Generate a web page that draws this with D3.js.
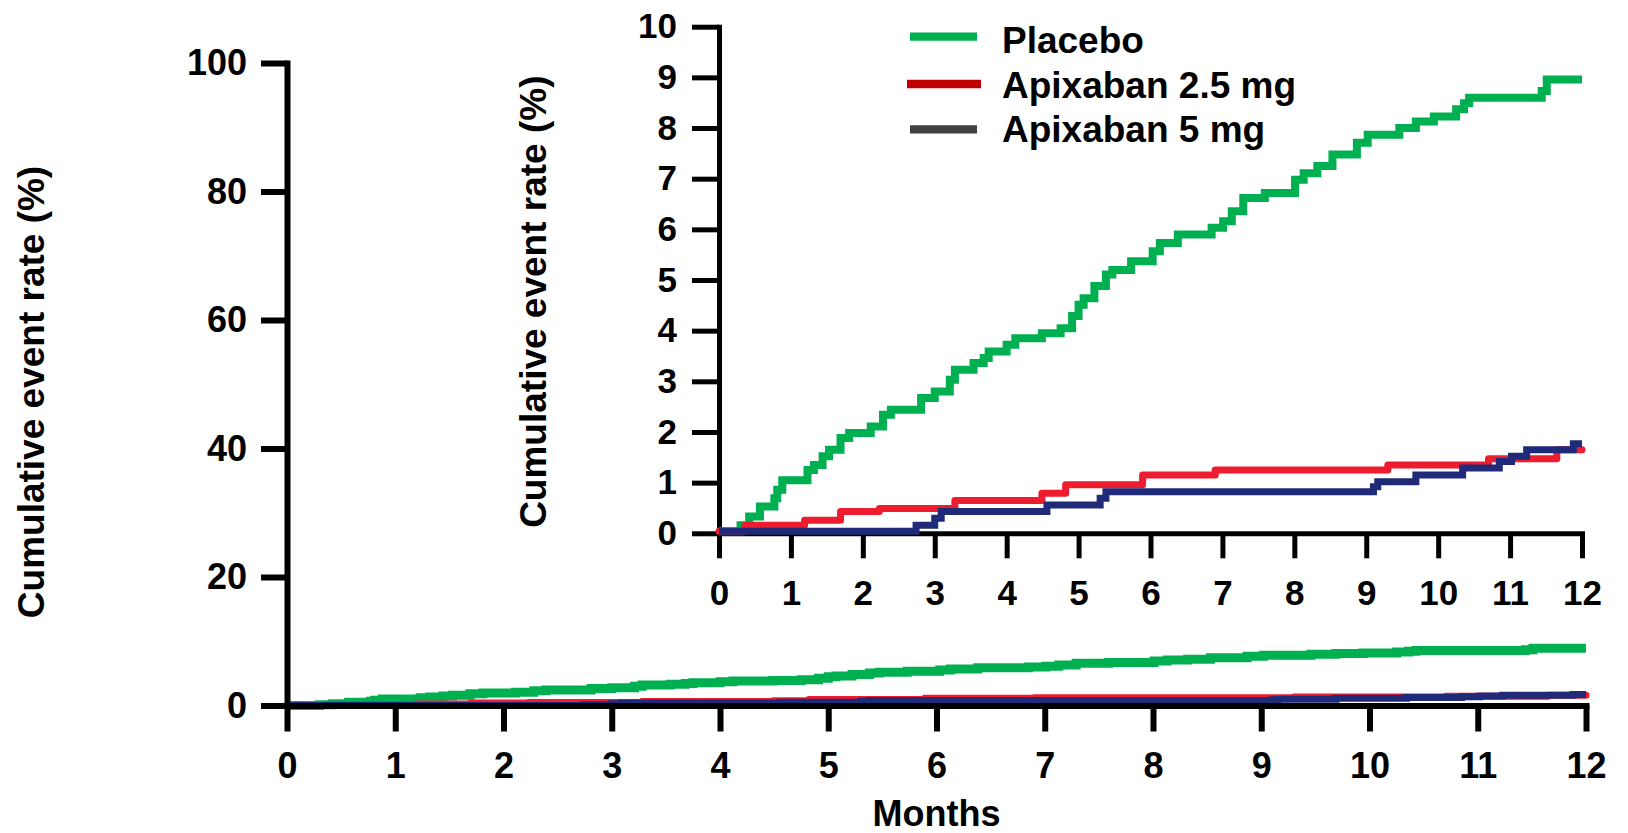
<!DOCTYPE html>
<html>
<head>
<meta charset="utf-8">
<script src="https://cdn.jsdelivr.net/npm/d3@7"></script>
<style>
  html, body { margin: 0; padding: 0; background: #fff; }
  svg { display: block; }
  text { font-family: "Liberation Sans", Arial, Helvetica, sans-serif; font-weight: bold; fill: #000; }
</style>
</head>
<body>
<svg id="chart" width="1628" height="833"></svg>
<script>
// ---------------- DATA ----------------
const seriesNames = ["Placebo", "Apixaban 2.5 mg", "Apixaban 5 mg"];
const legendColors = ["#00b050", "#c00000", "#404040"];
const lineColors = ["#00b050", "#ed1c2e", "#1f2a78"];

// Placebo: step times (months) and cumulative event rate (%)
const placeboMonths = [0, 0.30, 0.42, 0.57, 0.77, 0.81, 0.88, 1.23, 1.32, 1.44, 1.53, 1.69, 1.81,
  2.11, 2.28, 2.39, 2.81, 3.00, 3.21, 3.28, 3.54, 3.68, 3.75, 4.00, 4.12, 4.49, 4.75, 4.91,
  5.00, 5.07, 5.22, 5.38, 5.47, 5.73, 6.03, 6.13, 6.38, 6.85, 7.01, 7.13, 7.29, 7.59,
  8.01, 8.13, 8.32, 8.53, 8.87, 9.02, 9.46, 9.69, 9.94, 10.25, 10.36, 10.43, 11.44, 11.51, 12.0];
const placeboRate = [0, 0.12, 0.29, 0.49, 0.65, 0.82, 1.01, 1.21, 1.31, 1.48, 1.61, 1.84, 1.94,
  2.07, 2.30, 2.40, 2.63, 2.76, 2.99, 3.19, 3.32, 3.42, 3.55, 3.68, 3.81, 3.91, 4.01, 4.25,
  4.47, 4.60, 4.84, 5.07, 5.16, 5.33, 5.53, 5.69, 5.86, 5.99, 6.12, 6.32, 6.58, 6.68,
  6.94, 7.07, 7.21, 7.44, 7.67, 7.83, 7.96, 8.09, 8.19, 8.33, 8.45, 8.56, 8.69, 8.92, 8.92];

// Apixaban 2.5 mg
const apix25Months = [0, 0.36, 1.19, 1.69, 2.23, 3.28, 4.49, 4.82, 5.89, 6.90, 9.30, 10.70, 11.65, 12.0];
const apix25Rate   = [0, 0.12, 0.22, 0.39, 0.45, 0.61, 0.75, 0.92, 1.11, 1.21, 1.31, 1.43, 1.61, 1.61];

// Apixaban 5 mg
const apix5Months = [0, 2.74, 3.00, 3.09, 4.56, 5.30, 5.38, 9.10, 9.16, 9.69, 10.34, 10.85, 11.02, 11.23, 11.88, 12.0];
const apix5Rate   = [0, 0.12, 0.26, 0.39, 0.52, 0.65, 0.78, 0.88, 0.98, 1.11, 1.25, 1.38, 1.48, 1.61, 1.73, 1.73];

const monthTicks = [0, 1, 2, 3, 4, 5, 6, 7, 8, 9, 10, 11, 12];
const mainRateTicks = [0, 20, 40, 60, 80, 100];
const insetRateTicks = [0, 1, 2, 3, 4, 5, 6, 7, 8, 9, 10];

const yLabel = "Cumulative event rate (%)";
const xLabel = "Months";

// ---------------- BUILD ----------------
const series = [
  {name: seriesNames[0], months: placeboMonths, rate: placeboRate},
  {name: seriesNames[1], months: apix25Months, rate: apix25Rate},
  {name: seriesNames[2], months: apix5Months, rate: apix5Rate}
].map((s, i) => ({
  name: s.name,
  color: lineColors[i],
  legendColor: legendColors[i],
  points: s.months.map((m, j) => ({t: m, v: s.rate[j]}))
}));

const svg = d3.select("#chart");

function styleAxis(g, width, fontSize) {
  g.select(".domain").attr("stroke", "#000").attr("stroke-width", width).attr("stroke-linecap", "square");
  g.selectAll(".tick line").attr("stroke", "#000").attr("stroke-width", width);
  g.selectAll(".tick text").attr("fill", "#000")
    .style("font-size", fontSize + "px").style("font-weight", "bold")
    .style("font-family", "'Liberation Sans', Arial, sans-serif");
}

// ---- Main chart ----
const xMain = d3.scaleLinear().domain([0, 12]).range([287, 1586]);
const yMain = d3.scaleLinear().domain([0, 100]).range([705.5, 63]);

const lineMain = d3.line().x(d => xMain(d.t)).y(d => yMain(d.v)).curve(d3.curveStepAfter);
const mainWidths = [9, 7, 7];
const mainLines = svg.append("g");
series.forEach((s, i) => {
  mainLines.append("path")
    .datum(s.points)
    .attr("fill", "none")
    .attr("stroke", s.color)
    .attr("stroke-width", mainWidths[i])
    .attr("stroke-linejoin", i === 1 ? "round" : "miter")
    .attr("stroke-linecap", i === 1 ? "round" : "butt")
    .attr("d", lineMain);
});

const gxMain = svg.append("g").attr("transform", `translate(0,${yMain(0)})`)
  .call(d3.axisBottom(xMain).tickValues(monthTicks).tickFormat(d3.format("d"))
    .tickSize(26).tickSizeOuter(0).tickPadding(21));
styleAxis(gxMain, 6, 36);

const gyMain = svg.append("g").attr("transform", `translate(${xMain(0)},0)`)
  .call(d3.axisLeft(yMain).tickValues(mainRateTicks).tickFormat(d3.format("d"))
    .tickSize(26).tickSizeOuter(0).tickPadding(14));
styleAxis(gyMain, 6, 36);

svg.append("text")
  .attr("transform", "translate(44,392) rotate(-90)")
  .attr("text-anchor", "middle")
  .style("font-size", "37px")
  .text(yLabel);

svg.append("text")
  .attr("x", (xMain(0) + xMain(12)) / 2)
  .attr("y", 826)
  .attr("text-anchor", "middle")
  .style("font-size", "36px")
  .text(xLabel);

// ---- Inset chart ----
const xIn = d3.scaleLinear().domain([0, 12]).range([719, 1582]);
const yIn = d3.scaleLinear().domain([0, 10]).range([533.3, 26.7]);

const gxIn = svg.append("g").attr("transform", `translate(0,${yIn(0)})`)
  .call(d3.axisBottom(xIn).tickValues(monthTicks).tickFormat(d3.format("d"))
    .tickSize(25).tickSizeOuter(0).tickPadding(22));
styleAxis(gxIn, 5, 35);

const gyIn = svg.append("g").attr("transform", `translate(${xIn(0)},0)`)
  .call(d3.axisLeft(yIn).tickValues(insetRateTicks).tickFormat(d3.format("d"))
    .tickSize(27).tickSizeOuter(0).tickPadding(15));
styleAxis(gyIn, 5, 35);

const lineIn = d3.line().x(d => xIn(d.t)).y(d => yIn(d.v) - 2).curve(d3.curveStepAfter);
const inWidths = [8, 7, 7];
series.forEach((s, i) => {
  svg.append("path")
    .datum(s.points)
    .attr("fill", "none")
    .attr("stroke", s.color)
    .attr("stroke-width", inWidths[i])
    .attr("stroke-linejoin", i === 1 ? "round" : "miter")
    .attr("stroke-linecap", i === 1 ? "round" : "butt")
    .attr("d", lineIn);
});

svg.append("text")
  .attr("transform", "translate(545.5,301.7) rotate(-90)")
  .attr("text-anchor", "middle")
  .style("font-size", "37px")
  .text(yLabel);

// ---- Legend ----
const legendLineY = [36.7, 84, 129.3];
const legendTextY = [53.3, 98.3, 141.7];
const legendG = svg.append("g");
series.forEach((s, i) => {
  legendG.append("line")
    .attr("x1", i === 1 ? 907 : 910).attr("x2", i === 1 ? 981 : 977)
    .attr("y1", legendLineY[i]).attr("y2", legendLineY[i])
    .attr("stroke", s.legendColor)
    .attr("stroke-width", 8.3);
  legendG.append("text")
    .attr("x", 1002).attr("y", legendTextY[i])
    .style("font-size", "37px")
    .text(s.name);
});
</script>
</body>
</html>
